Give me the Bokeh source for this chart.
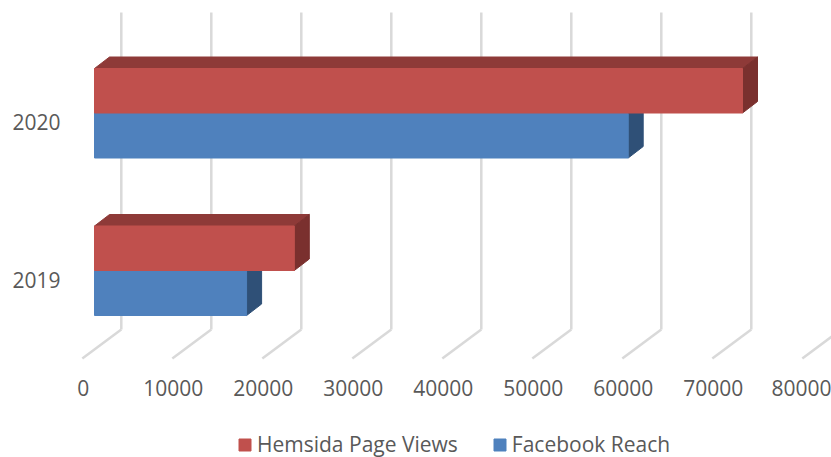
from bokeh.plotting import figure
from bokeh.models import Range1d, LinearAxis, FixedTicker, Legend, LegendItem
from bokeh.embed import file_html
from bokeh.resources import INLINE

categories = ["2019", "2020"]
page_views = [22200, 72000]
reach = [16900, 59300]
ticks = [0, 10000, 20000, 30000, 40000, 50000, 60000, 70000, 80000]

PX_X = 90 / 10000          # pixels per value unit
PX_Y = 157.5               # pixels per category
L, R, T, B = 0, 831, 0, 457
X0 = 94                    # pixel of value 0 on the front of the bars
Y0 = 270                   # pixel of the first category's centre
BAR = 44.5 / PX_Y
DX, DY = 15 / PX_X, 11.5 / PX_Y
WALL_DX, WALL_DY = 39 / PX_X, 29 / PX_Y
LINE_X = -0.9 / PX_X       # floor lines start slightly left of the label centre

def xr(shift=0):
    return Range1d((L - X0 - shift) / PX_X, (R - X0 - shift) / PX_X)
def yr(shift=0):
    return Range1d((Y0 + shift - B) / PX_Y, (Y0 + shift - T) / PX_Y)

p = figure(width=831, height=457, output_backend="svg", toolbar_location=None,
           x_range=xr(), y_range=yr(), min_border=0, outline_line_color=None,
           x_axis_location=None, y_axis_location=None,
           background_fill_color="white", border_fill_color="white")
p.grid.visible = False

p.extra_x_ranges["floor"] = xr(82.7 - X0)
p.extra_y_ranges["cats"] = yr(9)
GRID = "#d9d9d9"
floor_y = (Y0 - 358) / PX_Y
wall_top = (Y0 - 12) / PX_Y
p.segment([t + LINE_X for t in ticks], [floor_y] * len(ticks),
          [t + LINE_X + WALL_DX for t in ticks], [floor_y + WALL_DY] * len(ticks),
          x_range_name="floor", line_color=GRID, line_width=2.5)
p.segment([t + LINE_X + WALL_DX for t in ticks], [floor_y + WALL_DY] * len(ticks),
          [t + LINE_X + WALL_DX for t in ticks], [wall_top] * len(ticks),
          x_range_name="floor", line_color=GRID, line_width=2.5)

def bars(values, lo, face, top, side):
    n = range(len(values))
    hi = [k + lo + BAR for k in n]
    low = [k + lo for k in n]
    p.patches([[0, DX, v + DX, v] for v in values],
              [[h, h + DY, h + DY, h] for h in hi], fill_color=top, line_color=top)
    p.patches([[v, v + DX, v + DX, v] for v in values],
              [[l, l + DY, h + DY, h] for l, h in zip(low, hi)], fill_color=side, line_color=side)
    return p.quad(left=[0] * len(values), right=values, bottom=low, top=hi,
                  fill_color=face, line_color=face)

blue = bars(reach, -BAR - 0.5 / PX_Y, "#4f81bd", "#2f5077", "#2f5077")
red = bars(page_views, 0, "#c0504d", "#8e3a38", "#7a302e")

xaxis = LinearAxis(x_range_name="floor", ticker=FixedTicker(ticks=ticks),
                   fixed_location=(Y0 - 364) / PX_Y)
yaxis = LinearAxis(y_range_name="cats", ticker=FixedTicker(ticks=list(range(len(categories)))),
                   major_label_overrides={i: c for i, c in enumerate(categories)},
                   fixed_location=(66 - X0) / PX_X)
for a in (xaxis, yaxis):
    a.axis_line_color = None
    a.major_tick_line_color = None
    a.minor_tick_line_color = None
    a.major_label_text_font = "Open Sans"
    a.major_label_text_font_size = "21px"
    a.major_label_text_color = "#595959"
xaxis.major_label_standoff = 9
yaxis.major_label_standoff = 0
p.add_layout(xaxis, "below")
p.add_layout(yaxis, "left")

legend = Legend(items=[LegendItem(label="Hemsida Page Views", renderers=[red]),
                       LegendItem(label="Facebook Reach", renderers=[blue])],
                orientation="horizontal", location=(237, -1),
                glyph_width=15, glyph_height=15, label_standoff=5, spacing=34,
                padding=0, margin=0, border_line_color=None, background_fill_alpha=0,
                label_text_font="Open Sans", label_text_font_size="21px",
                label_text_color="#595959", label_height=14)
p.add_layout(legend)

open("out.html", "w").write(file_html(p, INLINE))
